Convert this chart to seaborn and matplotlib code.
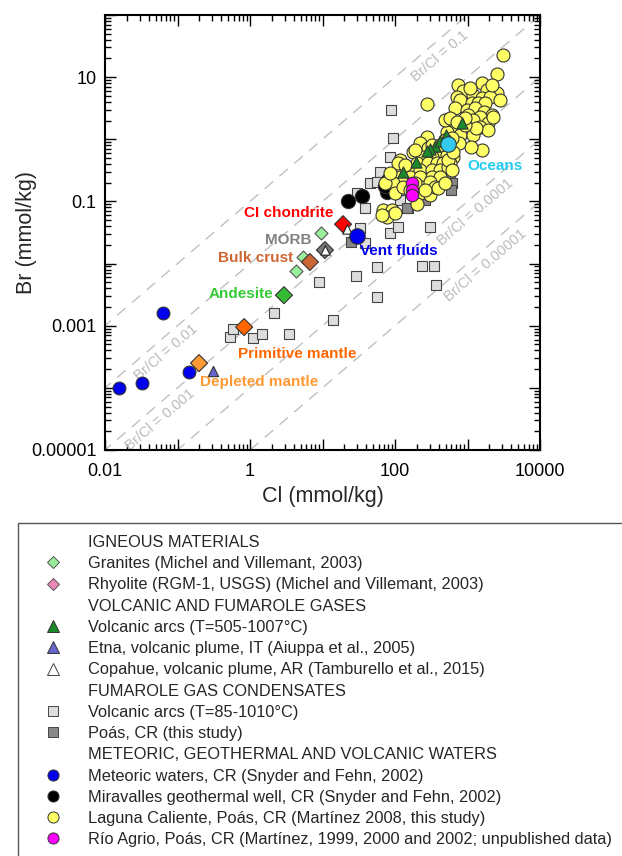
import numpy as np
import pandas as pd
import matplotlib
matplotlib.use('Agg')
import matplotlib.pyplot as plt
import seaborn as sns
from matplotlib.lines import Line2D
from matplotlib.patches import Rectangle
from matplotlib.ticker import LogLocator, NullFormatter

sns.set_style('ticks')
plt.rcParams['font.family'] = ['Liberation Sans', 'DejaVu Sans']

# --- data (Cl and Br in mmol/kg) ---
laguna_cl = [3090, 2553, 276, 740, 867, 1585, 1858, 2553, 716, 1191, 1585, 2043, 788, 1153, 1396,
             1742, 673, 985, 1269, 1690, 2178, 1016, 1487, 1191, 1919, 1487, 1919, 631, 985, 521,
             788, 1191, 1585, 1117, 764, 611, 276, 221, 177, 285, 380, 418, 521, 631, 324, 236,
             201, 285, 380, 459, 574, 117, 110, 161, 221, 324, 418, 538, 117, 161, 221, 324, 418,
             125, 93.8, 236, 304, 72.8, 100, 221, 304, 201, 85.3, 129, 68.3, 91, 77.6, 100, 66.2,
             356, 538, 631, 418, 189, 1309, 2249, 925, 490,
             1082, 2178, 2808, 925, 574, 716, 490, 324, 137, 189, 161, 392, 490, 611, 259]
laguna_br = [22.7, 11.2, 3.70, 7.48, 5.98, 8.05, 6.21, 5.56, 4.79, 5.16, 4.62, 4.79, 4.29, 3.84, 3.84,
             3.84, 3.19, 2.96, 3.19, 2.75, 2.46, 2.46, 2.28, 2.04, 1.83, 1.58, 1.41, 1.58, 1.41, 1.31,
             1.17, 1.17, 0.672, 0.751, 0.871, 1.05, 1.09, 0.871, 0.624, 0.724, 0.624, 0.519, 0.558,
             0.519, 0.519, 0.519, 0.415, 0.415, 0.415, 0.415, 0.415, 0.464, 0.415, 0.321, 0.321,
             0.321, 0.321, 0.358, 0.247, 0.247, 0.247, 0.247, 0.247, 0.206, 0.198, 0.171, 0.206,
             0.198, 0.137, 0.137, 0.127, 0.0908, 0.287, 0.171, 0.0728, 0.0728, 0.0561, 0.0652,
             0.0604, 0.171, 0.464, 0.624, 0.809, 0.672, 1.52, 2.28, 1.70, 2.04,
             6.69, 7.48, 4.29, 2.20, 2.20, 1.90, 0.974, 0.809, 0.385, 0.198, 0.153, 0.164, 0.198,
             0.321, 0.153]

cond_arcs_cl = [88.1, 93.8, 85.3, 62.1, 45.2, 56.5, 38.6, 29.9, 32.9, 85.3, 110, 304, 117, 151, 56.5,
                29, 8.95, 56.5, 14.0, 236, 345, 368, 38.6, 0.53, 0.58, 1.1, 1.47, 3.45, 2.14]
cond_arcs_br = [2.96, 1.05, 0.519, 0.297, 0.198, 0.206, 0.0783, 0.137, 0.0373, 0.031, 0.0387, 0.0387,
                0.105, 0.0783, 0.00881, 0.00631, 0.00505, 0.0029, 0.00124, 0.00914, 0.00914,
                0.00452, 0.0214, 6.6e-4, 8.9e-4, 6.3e-4, 7.4e-4, 7.4e-4, 1.6e-3]

cond_poas_cl = [574, 611, 592, 146, 25, 262]
cond_poas_br = [0.287, 0.198, 0.153, 0.0783, 0.0222, 0.105]

miravalles_cl = [22.5, 35, 80, 77.6, 72.8]
miravalles_br = [0.10, 0.122, 0.22, 0.14, 0.177]

rio_agrio_cl = [171, 171, 171]
rio_agrio_br = [0.198, 0.153, 0.127]

gas_arcs_cl = [840, 505, 356, 304, 276, 195, 129, 417]
gas_arcs_br = [1.83, 1.17, 0.78, 0.70, 0.65, 0.43, 0.30, 0.94]

meteoric_cl = [0.0156, 0.032, 0.063, 0.144]
meteoric_br = [1.0e-4, 1.2e-4, 1.6e-3, 1.8e-4]

etna_cl = [0.31]
etna_br = [1.9e-4]

copahue_cl = [10.8, 21.8]
copahue_br = [0.0165, 0.036]

granites_cl = [9.5, 5.4, 4.3]
granites_br = [0.031, 0.0128, 0.0076]

ref_names = ['CI chondrite', 'MORB', 'Bulk crust', 'Andesite', 'Primitive mantle', 'Depleted mantle']
ref_cl = [19.2, 10.8, 6.7, 2.94, 0.83, 0.198]
ref_br = [0.043, 0.0165, 0.0106, 3.1e-3, 9.5e-4, 2.5e-4]

vent_cl, vent_br = [30], [0.0278]
ocean_cl, ocean_br = [546], [0.84]

ratios = [0.1, 0.01, 0.001, 0.0001, 0.00001]
ratio_labels = ['Br/Cl = 0.1', 'Br/Cl = 0.01', 'Br/Cl = 0.001', 'Br/Cl = 0.0001', 'Br/Cl = 0.00001']
ratio_label_cl = [320, 0.053, 0.044, 969, 1330]

# --- styles ---
ref_colors = ['#FF0000', '#777777', '#CC6633', '#33BB33', '#FF6600', '#FF9933']
ref_text_colors = ['#FF0000', '#808080', '#CC6633', '#33CC33', '#FF6600', '#FF9933']
ref_offsets = [(-10, 11, 'right'), (-13, 10, 'right'), (-17, 4, 'right'), (-11, 1, 'right'),
               (-6, -27, 'left'), (1, -19, 'left')]
edge = '#333333'

fig = plt.figure(figsize=(6.22, 8.56), dpi=100)
ax = fig.add_axes([105 / 622, 1 - 450 / 856, 435 / 622, 435 / 856])
ax.set_xscale('log')
ax.set_yscale('log')

# Br/Cl reference lines
xx = np.array([1e-4, 1e6])
for r in ratios:
    ax.plot(xx, r * xx, color='#C0C0C0', lw=1, ls=(0, (8, 6)), zorder=0)


def pts(x, y, marker, color, s, z, ec=edge, lw=0.8):
    sns.scatterplot(x=x, y=y, marker=marker, color=color, s=s, edgecolor=ec,
                    linewidth=lw, ax=ax, zorder=z, legend=False)


pts(cond_arcs_cl, cond_arcs_br, 's', '#DDDDDD', 62, 2, ec='#444444')
pts(cond_poas_cl, cond_poas_br, 's', '#888888', 62, 2, ec='#444444')
pts(miravalles_cl, miravalles_br, 'o', 'black', 105, 3)
pts(laguna_cl, laguna_br, 'o', '#FFFF66', 88, 4)
pts(rio_agrio_cl, rio_agrio_br, 'o', '#FF00FF', 80, 5)
pts(gas_arcs_cl, gas_arcs_br, '^', '#1A8A2A', 65, 6)
pts(granites_cl, granites_br, 'D', '#99EE99', 44, 6, ec='#555555')
pts(ref_cl, ref_br, 'D', ref_colors, 75, 7)
pts(copahue_cl, copahue_br, '^', 'white', 45, 8, ec='#222222')
pts(etna_cl, etna_br, '^', '#6666CC', 55, 7)
pts(meteoric_cl, meteoric_br, 'o', '#0000EE', 85, 7)
pts(vent_cl, vent_br, 'o', '#0000EE', 125, 8)
pts(ocean_cl, ocean_br, 'o', '#33CCEE', 125, 8)

ax.set_xlim(0.01, 1e4)
ax.set_ylim(1e-5, 1e2)

# labels of reference materials
for name, x, y, c, (dx, dy, ha) in zip(ref_names, ref_cl, ref_br, ref_text_colors, ref_offsets):
    ax.annotate(name, xy=(x, y), xytext=(dx, dy), textcoords='offset pixels', ha=ha, va='center',
                color=c, fontsize=11, fontweight='bold', zorder=10)
ax.annotate('Vent fluids', xy=(vent_cl[0], vent_br[0]), xytext=(3, -15), textcoords='offset pixels',
            ha='left', va='center', color='#0000EE', fontsize=11, fontweight='bold', zorder=10)
ax.annotate('Oceans', xy=(ocean_cl[0], ocean_br[0]), xytext=(19, -22), textcoords='offset pixels',
            ha='left', va='center', color='#22CCEE', fontsize=11, fontweight='bold', zorder=10)

# ratio line labels
p1 = ax.transData.transform((1, 1e-3))
p2 = ax.transData.transform((100, 1e-1))
angle = np.degrees(np.arctan2(p2[1] - p1[1], p2[0] - p1[0]))
for r, lab, x in zip(ratios, ratio_labels, ratio_label_cl):
    ax.annotate(lab, xy=(x, r * x), xytext=(8.5, -10), textcoords='offset pixels', rotation=angle,
                rotation_mode='anchor', ha='center', va='center', color='#BBBBBB', fontsize=10.5,
                zorder=1)

# ticks
xt = [10.0 ** k for k in range(-2, 5)]
yt = [10.0 ** k for k in range(-5, 3)]
xt_lab = {-2: '0.01', 0: '1', 2: '100', 4: '10000'}
yt_lab = {-5: '0.00001', -3: '0.001', -1: '0.1', 1: '10'}
ax.set_xticks(xt)
ax.set_xticklabels([xt_lab.get(k, '') for k in range(-2, 5)])
ax.set_yticks(yt)
ax.set_yticklabels([yt_lab.get(k, '') for k in range(-5, 3)])
ax.xaxis.set_minor_locator(LogLocator(base=10, subs=np.arange(2, 10), numticks=20))
ax.yaxis.set_minor_locator(LogLocator(base=10, subs=np.arange(2, 10), numticks=20))
ax.xaxis.set_minor_formatter(NullFormatter())
ax.yaxis.set_minor_formatter(NullFormatter())
ax.tick_params(which='both', direction='in', top=True, right=True, width=1, colors='black',
               labelsize=13)
ax.tick_params(which='major', length=8)
ax.tick_params(axis='x', which='major', pad=9)
ax.tick_params(axis='y', which='major', pad=6)
ax.tick_params(which='minor', length=4)
for sp in ax.spines.values():
    sp.set_linewidth(1.5)
    sp.set_color('black')
ax.set_xlabel('Cl (mmol/kg)', fontsize=15.5, labelpad=5)
ax.set_ylabel('Br (mmol/kg)', fontsize=15.5, labelpad=-4)

# legend box (runs off the right and bottom edges, as in the original)
fig.patches.append(Rectangle((18 / 622, -0.1), 1.2, 0.1 + (856 - 523) / 856, transform=fig.transFigure,
                             fill=False, edgecolor='#555555', lw=1))


def h(marker, color, ms=8, ec=edge):
    return Line2D([], [], ls='none', marker=marker, markerfacecolor=color, markeredgecolor=ec,
                  markersize=ms, markeredgewidth=0.7)


blank = Line2D([], [], ls='none')
handles = [blank, h('D', '#99EE99', 6.5, '#555555'), h('D', '#EE88BB', 6.5, '#555555'), blank,
           h('^', '#1A8A2A'), h('^', '#6666CC'), h('^', 'white', 8, '#444444'), blank,
           h('s', '#DDDDDD', 7.5, '#444444'), h('s', '#888888', 7.5, '#444444'), blank,
           h('o', '#0000EE'), h('o', 'black'), h('o', '#FFFF66'), h('o', '#FF00FF')]
labels = ['IGNEOUS MATERIALS', 'Granites (Michel and Villemant, 2003)',
          'Rhyolite (RGM-1, USGS) (Michel and Villemant, 2003)', 'VOLCANIC AND FUMAROLE GASES',
          'Volcanic arcs (T=505-1007°C)', 'Etna, volcanic plume, IT (Aiuppa et al., 2005)',
          'Copahue, volcanic plume, AR (Tamburello et al., 2015)', 'FUMAROLE GAS CONDENSATES',
          'Volcanic arcs (T=85-1010°C)', 'Poás, CR (this study)',
          'METEORIC, GEOTHERMAL AND VOLCANIC WATERS', 'Meteoric waters, CR (Snyder and Fehn, 2002)',
          'Miravalles geothermal well, CR (Snyder and Fehn, 2002)',
          'Laguna Caliente, Poás, CR (Martínez 2008, this study)',
          'Río Agrio, Poás, CR (Martínez, 1999, 2000 and 2002; unpublished data)']
fig.legend(handles, labels, loc='upper left', bbox_to_anchor=(44.8 / 622, 1 - 535 / 856),
           frameon=False, fontsize=11.8, handlelength=1.0, handletextpad=1.63, labelspacing=0.38,
           borderpad=0, borderaxespad=0)

fig.savefig('out.png', dpi=100)
